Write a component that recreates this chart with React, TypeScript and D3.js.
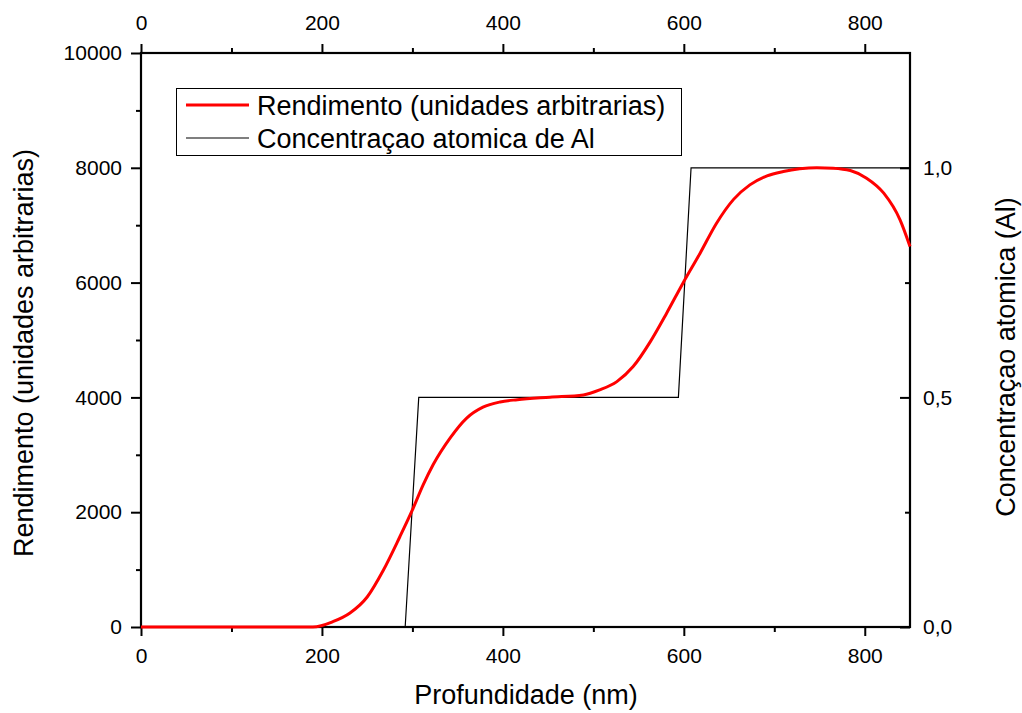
import React, { useEffect, useRef } from "react";
import * as d3 from "d3";

const depthRed = [0, 100, 190, 212, 231, 250, 268, 286, 300, 312, 323, 342, 360, 378, 397, 416, 452, 489, 507, 526, 544, 563, 581, 599, 618, 636, 655, 673, 692, 710, 728, 747, 765, 784, 802, 821, 839, 850];
const yieldRed = [0, 0, 0, 92, 244, 523, 993, 1568, 2039, 2480, 2830, 3300, 3640, 3830, 3921, 3960, 4003, 4043, 4130, 4275, 4537, 4972, 5467, 5990, 6513, 7030, 7450, 7703, 7860, 7935, 7982, 8002, 7994, 7952, 7820, 7558, 7093, 6628];

const depthAl = [0, 292, 307, 594, 608, 850];
const concAl = [0, 0, 0.5, 0.5, 1.0, 1.0];

const xMajor = [0, 200, 400, 600, 800];
const xMinor = [100, 300, 500, 700];
const yLeftMajor = [0, 2000, 4000, 6000, 8000, 10000];
const yLeftMinor = [1000, 3000, 5000, 7000, 9000];
const yRightMajor = [0, 0.5, 1.0];
const yRightMinor = [0.25, 0.75];

const legendLabels = ["Rendimento (unidades arbitrarias)", "Concentraçao atomica de Al"];
const xTitle = "Profundidade (nm)";
const yLeftTitle = "Rendimento (unidades arbitrarias)";
const yRightTitle = "Concentraçao atomica (Al)";

const W = 1022;
const H = 713;
const FONT = "'Liberation Sans', Arial, sans-serif";

export default function App() {
  const ref = useRef<SVGSVGElement | null>(null);

  useEffect(() => {
    const svg = d3.select(ref.current);
    svg.selectAll("*").remove();

    const x = d3.scaleLinear().domain([0, 850]).range([141, 910]);
    const yL = d3.scaleLinear().domain([0, 10000]).range([627, 53]);
    const yR = d3.scaleLinear().domain([0, 1.25]).range([627, 53]);

    const styleAxis = (g: any) => {
      g.select(".domain").remove();
      g.selectAll("line").attr("stroke", "#000").attr("stroke-width", 2);
      g.selectAll("text").attr("font-family", FONT).attr("font-size", 21).attr("fill", "#000");
    };

    // Bottom axis
    svg.append("g").attr("transform", "translate(0,627)")
      .call(d3.axisBottom(x).tickValues(xMajor).tickSize(9).tickPadding(12).tickFormat(d3.format("d")) as any)
      .call(styleAxis);
    svg.append("g").attr("transform", "translate(0,627)")
      .call(d3.axisBottom(x).tickValues(xMinor).tickSize(5).tickFormat(() => "") as any)
      .call(styleAxis);

    // Top axis
    svg.append("g").attr("transform", "translate(0,53)")
      .call(d3.axisTop(x).tickValues(xMajor).tickSize(9).tickPadding(14).tickFormat(d3.format("d")) as any)
      .call(styleAxis);
    svg.append("g").attr("transform", "translate(0,53)")
      .call(d3.axisTop(x).tickValues(xMinor).tickSize(5).tickFormat(() => "") as any)
      .call(styleAxis);

    // Left axis
    svg.append("g").attr("transform", "translate(141,0)")
      .call(d3.axisLeft(yL).tickValues(yLeftMajor).tickSize(10).tickPadding(9).tickFormat(d3.format("d")) as any)
      .call(styleAxis);
    svg.append("g").attr("transform", "translate(141,0)")
      .call(d3.axisLeft(yL).tickValues(yLeftMinor).tickSize(5).tickFormat(() => "") as any)
      .call(styleAxis);

    // Right axis (inward ticks)
    svg.append("g").attr("transform", "translate(910,0)")
      .call(d3.axisRight(yR).tickValues(yRightMajor).tickSize(-10).tickPadding(13)
        .tickFormat((d: any) => d3.format(".1f")(d).replace(".", ",")) as any)
      .call(styleAxis);
    svg.append("g").attr("transform", "translate(910,0)")
      .call(d3.axisRight(yR).tickValues(yRightMinor).tickSize(-5).tickFormat(() => "") as any)
      .call(styleAxis);

    // Frame
    svg.append("rect")
      .attr("x", x(0)).attr("y", yL(10000))
      .attr("width", x(850) - x(0)).attr("height", yL(0) - yL(10000))
      .attr("fill", "none").attr("stroke", "#000").attr("stroke-width", 2.2);

    // Al concentration line
    const alData = depthAl.map((d, i) => [d, concAl[i]] as [number, number]);
    svg.append("path")
      .datum(alData)
      .attr("d", d3.line<[number, number]>().x(d => x(d[0])).y(d => yR(d[1])))
      .attr("fill", "none").attr("stroke", "#000").attr("stroke-width", 1.2);

    // Red yield curve
    const redData = depthRed.map((d, i) => [d, yieldRed[i]] as [number, number]);
    svg.append("path")
      .datum(redData)
      .attr("d", d3.line<[number, number]>().x(d => x(d[0])).y(d => yL(d[1])).curve(d3.curveMonotoneX))
      .attr("fill", "none").attr("stroke", "#ff0000").attr("stroke-width", 3);

    // Legend
    const lg = svg.append("g");
    lg.append("rect").attr("x", 176.5).attr("y", 88.5).attr("width", 505).attr("height", 67)
      .attr("fill", "#fff").attr("stroke", "#000").attr("stroke-width", 1);
    lg.append("line").attr("x1", 186).attr("x2", 249).attr("y1", 105).attr("y2", 105)
      .attr("stroke", "#ff0000").attr("stroke-width", 3);
    lg.append("line").attr("x1", 186).attr("x2", 249).attr("y1", 138).attr("y2", 138)
      .attr("stroke", "#000").attr("stroke-width", 1.2);
    lg.append("text").attr("x", 257).attr("y", 115).text(legendLabels[0])
      .attr("font-family", FONT).attr("font-size", 27).attr("fill", "#000");
    lg.append("text").attr("x", 257).attr("y", 148).text(legendLabels[1])
      .attr("font-family", FONT).attr("font-size", 27).attr("fill", "#000");

    // Titles
    svg.append("text").attr("x", 526).attr("y", 704).attr("text-anchor", "middle")
      .attr("font-family", FONT).attr("font-size", 27).text(xTitle);
    svg.append("text").attr("transform", "translate(33,353) rotate(-90)").attr("text-anchor", "middle")
      .attr("font-family", FONT).attr("font-size", 27).text(yLeftTitle);
    svg.append("text").attr("transform", "translate(1015,357) rotate(-90)").attr("text-anchor", "middle")
      .attr("font-family", FONT).attr("font-size", 27).text(yRightTitle);
  }, []);

  return (
    <svg
      ref={ref}
      width={W}
      height={H}
      style={{ position: "absolute", left: 0, top: 0, background: "#fff" }}
    />
  );
}
